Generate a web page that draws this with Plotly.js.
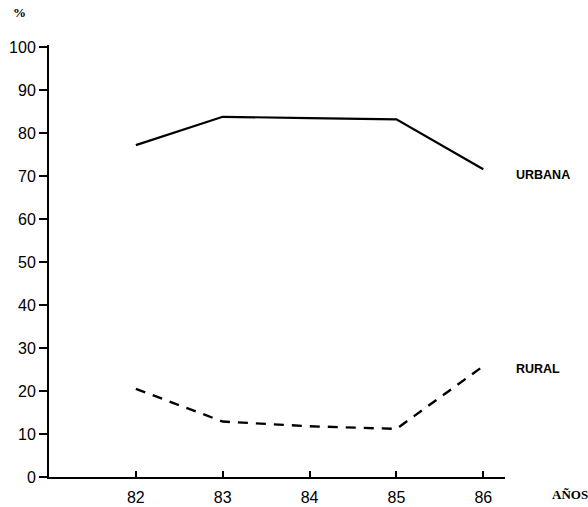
<!DOCTYPE html>
<html>
<head>
<meta charset="utf-8">
<script src="https://cdn.plot.ly/plotly-3.0.1.min.js"></script>
<style>html,body{margin:0;padding:0;background:#fff;}#chart{width:588px;height:507px;}</style>
</head>
<body>
<div id="chart"></div>
<script>
const years = [82, 83, 84, 85, 86];
const urbana = [77.2, 83.8, 83.5, 83.2, 71.6];
const rural = [20.5, 12.9, 11.8, 11.2, 25.8];
const yTicks = [0, 10, 20, 30, 40, 50, 60, 70, 80, 90, 100];
const seriesNames = ["URBANA", "RURAL"];

const traces = [
  {x: years, y: urbana, mode: "lines", name: seriesNames[0],
   line: {color: "#000", width: 2.2}},
  {x: years, y: rural, mode: "lines", name: seriesNames[1],
   line: {color: "#000", width: 2.4, dash: "10px,8px"}}
];

const layout = {
  width: 588, height: 507,
  margin: {l: 49, r: 83, t: 45, b: 30},
  paper_bgcolor: "#fff", plot_bgcolor: "#fff",
  showlegend: false,
  font: {family: "Liberation Sans, Arial, sans-serif", color: "#000", size: 15},
  xaxis: {
    range: [81.0, 86.25], tickvals: years, ticktext: years.map(String),
    showgrid: false, zeroline: false, showline: true, linecolor: "#000", linewidth: 2,
    ticks: "inside", ticklen: 6, tickwidth: 2, tickcolor: "#000",
    ticklabelstandoff: 5,
    tickfont: {size: 16, family: "Liberation Sans, Arial, sans-serif"}
  },
  yaxis: {
    range: [0, 100.5], tickvals: yTicks, ticktext: yTicks.map(String),
    showgrid: false, zeroline: false, showline: true, linecolor: "#000", linewidth: 2,
    ticks: "outside", ticklen: 8, tickwidth: 2, tickcolor: "#000",
    tickfont: {size: 16, family: "Liberation Sans, Arial, sans-serif"}
  },
  annotations: [
    {xref: "paper", yref: "y", x: 1.02, y: 70.2, text: "<b>" + seriesNames[0] + "</b>",
     showarrow: false, xanchor: "left", yanchor: "middle", font: {size: 12.5}},
    {xref: "paper", yref: "y", x: 1.02, y: 25.1, text: "<b>" + seriesNames[1] + "</b>",
     showarrow: false, xanchor: "left", yanchor: "middle", font: {size: 12.5}},
    {xref: "paper", yref: "paper", x: 1.098, y: 0, yshift: -17, text: "<b>AÑOS</b>",
     showarrow: false, xanchor: "left", yanchor: "middle",
     font: {size: 13, family: "Liberation Serif, Times New Roman, serif"}},
    {xref: "paper", yref: "paper", x: 0, xshift: -30, y: 1, yshift: 33, text: "<b>%</b>",
     showarrow: false, xanchor: "center", yanchor: "middle",
     font: {size: 13, family: "Liberation Serif, Times New Roman, serif"}}
  ]
};

Plotly.newPlot("chart", traces, layout, {displayModeBar: false, staticPlot: true});
</script>
</body>
</html>
